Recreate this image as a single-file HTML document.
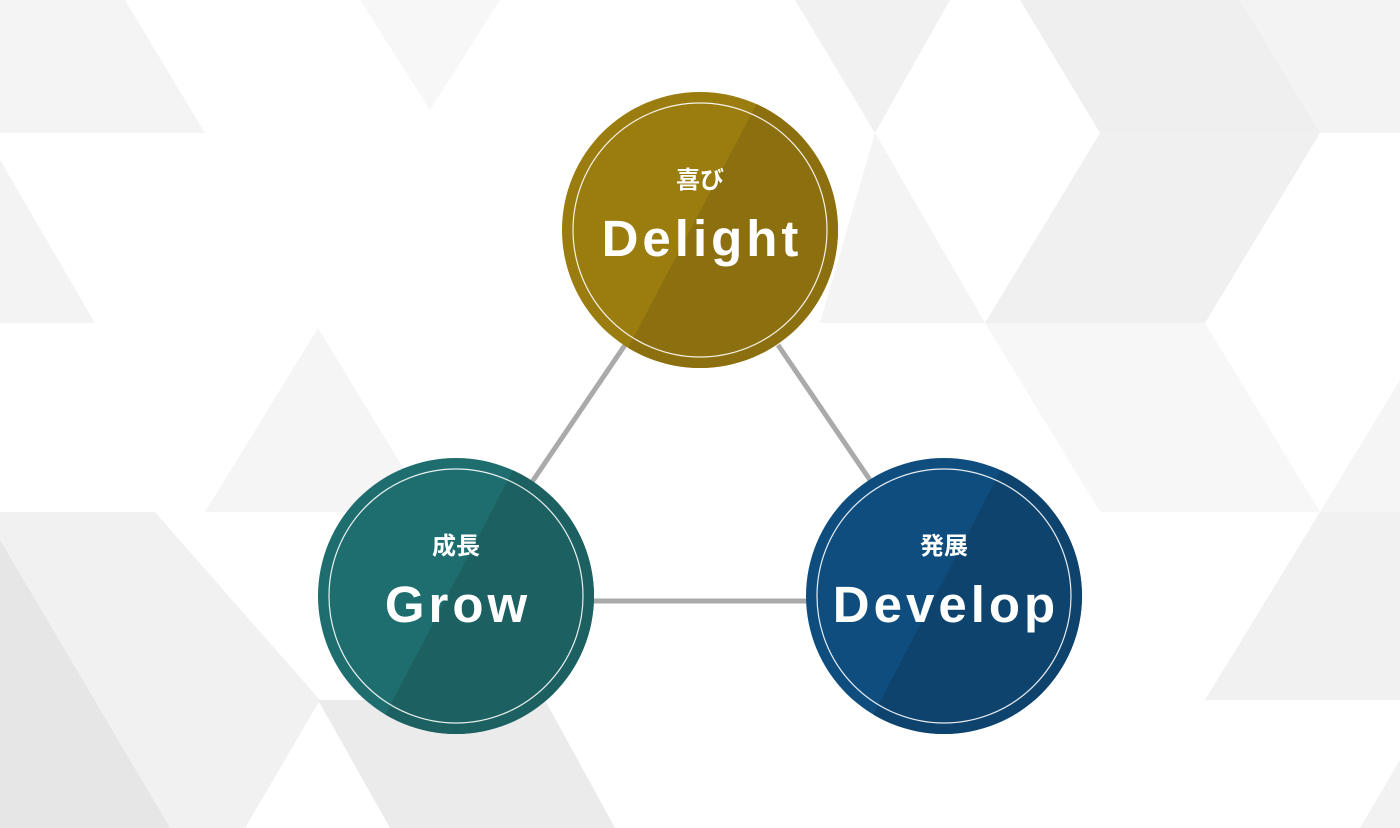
<!DOCTYPE html>
<html><head><meta charset="utf-8"><style>
html,body{margin:0;padding:0;background:#fff;}
svg{display:block}
text{font-family:"Liberation Sans","Noto Sans CJK JP",sans-serif;font-weight:bold;fill:#fff;text-anchor:middle}
.en{letter-spacing:4px}
</style></head><body>
<svg width="1400" height="828" viewBox="0 0 1400 828" xmlns="http://www.w3.org/2000/svg">
<defs>
<clipPath id="c1"><circle cx="700" cy="230" r="138"/></clipPath>
<clipPath id="c2"><circle cx="456" cy="596" r="138"/></clipPath>
<clipPath id="c3"><circle cx="944" cy="596" r="138"/></clipPath>
</defs>
<rect width="1400" height="828" fill="#fff"/>
<g>
<polygon points="0,0 125,0 205,133 0,133" fill="#f4f4f4"/>
<polygon points="0,160 95,323 0,323" fill="#f3f3f3"/>
<polygon points="205,512 318,328 430,512" fill="#f5f5f5"/>
<polygon points="0,512 155,512 320,700 245,828 0,828" fill="#f1f1f1"/>
<polygon points="0,540 170,828 0,828" fill="#e6e6e6"/>
<polygon points="318,700 545,700 615,828 390,828" fill="#ebebeb"/>
<polygon points="795,0 950,0 875,133" fill="#f1f1f1"/>
<polygon points="360,0 500,0 430,110" fill="#f7f7f7"/>
<polygon points="1020,0 1240,0 1320,133 1100,133" fill="#efefef"/>
<polygon points="1240,0 1400,0 1400,133 1320,133" fill="#f3f3f3"/>
<polygon points="875,133 985,323 820,323" fill="#f4f4f4"/>
<polygon points="985,323 1100,133 1320,133 1205,323" fill="#f0f0f0"/>
<polygon points="1205,323 1320,512 1100,512 985,323" fill="#f7f7f7"/>
<polygon points="1205,700 1320,512 1400,512 1400,700" fill="#f1f1f1"/>
<polygon points="1320,512 1400,380 1400,512" fill="#f5f5f5"/>
<polygon points="1360,828 1400,760 1400,828" fill="#f2f2f2"/>
</g>
<g stroke="#aaaaaa" stroke-width="5" fill="none">
<line x1="625" y1="345" x2="532" y2="482"/>
<line x1="778" y1="345" x2="870" y2="480"/>
<line x1="590" y1="601" x2="810" y2="601"/>
</g>
<circle cx="700" cy="230" r="138" fill="#9a7c0f"/>
<polygon clip-path="url(#c1)" points="780,60 900,60 900,420 590,420" fill="#8c6f0e"/>
<circle cx="700" cy="230" r="127" fill="none" stroke="#fff" stroke-width="1.2" opacity="0.9"/>
<text x="700" y="188" font-size="24">喜び</text>
<text class="en" x="700" y="256" dx="2" font-size="51">Delight</text>
<circle cx="456" cy="596" r="138" fill="#1f6e6f"/>
<polygon clip-path="url(#c2)" points="536,426 660,426 660,790 346,790" fill="#1d6062"/>
<circle cx="456" cy="596" r="127" fill="none" stroke="#fff" stroke-width="1.2" opacity="0.9"/>
<text x="456" y="554" font-size="24">成長</text>
<text class="en" x="456" y="622" dx="2" font-size="51">Grow</text>
<circle cx="944" cy="596" r="138" fill="#0f4d7e"/>
<polygon clip-path="url(#c3)" points="1024,426 1150,426 1150,790 834,790" fill="#0e436d"/>
<circle cx="944" cy="596" r="127" fill="none" stroke="#fff" stroke-width="1.2" opacity="0.9"/>
<text x="944" y="554" font-size="24">発展</text>
<text class="en" x="944" y="622" dx="2" font-size="51">Develop</text>
</svg>
</body></html>
